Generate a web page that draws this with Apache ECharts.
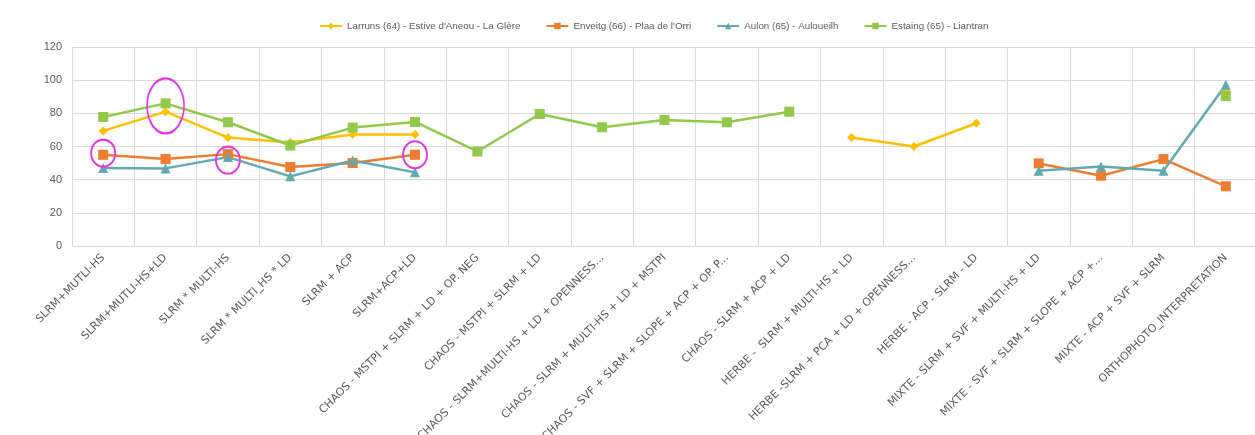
<!DOCTYPE html>
<html>
<head>
<meta charset="utf-8">
<script src="https://cdn.jsdelivr.net/npm/echarts@6/dist/echarts.min.js"></script>
<style>
  html, body { margin: 0; padding: 0; background: #fff; }
  #chart { width: 1255px; height: 435px; }
</style>
</head>
<body>
<div id="chart"></div>
<script>
// categories (axis labels as shown, truncated ones kept with "...")
var categories = [
    'SLRM+MUTLI-HS',
    'SLRM+MUTLI-HS+LD',
    'SLRM * MULTI-HS',
    'SLRM * MULTI_HS * LD',
    'SLRM + ACP',
    'SLRM+ACP+LD',
    'CHAOS - MSTPI + SLRM + LD + OP. NEG',
    'CHAOS - MSTPI + SLRM + LD',
    'CHAOS - SLRM+MULTI-HS + LD + OPENNESS...',
    'CHAOS - SLRM + MULTI-HS + LD + MSTPI',
    'CHAOS - SVF + SLRM + SLOPE + ACP + OP. P...',
    'CHAOS - SLRM + ACP + LD',
    'HERBE -  SLRM + MULTI-HS + LD',
    'HERBE -SLRM + PCA + LD + OPENNESS...',
    'HERBE - ACP - SLRM - LD',
    'MIXTE - SLRM + SVF + MULTI-HS + LD',
    'MIXTE - SVF + SLRM + SLOPE + ACP +...',
    'MIXTE - ACP + SVF + SLRM',
    'ORTHOPHOTO_INTERPRETATION'
];

// series names
var nameLarruns = "Larruns (64) - Estive d'Aneou - La Glère";
var nameEnveitg = "Enveitg (66) - Plaa de l'Orri";
var nameAulon = 'Aulon (65) - Auloueilh';
var nameEstaing = 'Estaing (65) - Liantran';

// values (null = no value)
var larruns = [69.4, 81, 65.4, 62.4, 67.2, 67.2, null, null, null, null, null, null, 65.4, 60, 74, null, null, null, 93.6];
var enveitg = [55, 52.4, 55.4, 47.6, 50, 55, null, null, null, null, null, null, null, null, null, 49.8, 42.4, 52.4, 36];
var aulon   = [47, 46.8, 53.6, 42, 51.6, 44.4, null, null, null, null, null, null, null, null, null, 45.4, 48, 45.4, 97.2];
var estaing = [77.8, 86, 74.6, 60.6, 71.4, 74.8, 57, 79.6, 71.6, 76, 74.6, 81, null, null, null, null, null, null, 90.4];

// y axis ticks
var yTicks = [0, 20, 40, 60, 80, 100, 120];

// hand-drawn magenta ellipses: category index + value of their centre
var noteSmallCats = [0, 2, 5];
var noteSmallValues = [56, 51.8, 55];
var noteBigCat = 1;
var noteBigValue = 84.5;

var chart = echarts.init(document.getElementById('chart'));

var textGray = '#595959';
var gridGray = '#d9d9d9';
var noteColor = '#e536e5';

function lineSeries(name, data, color, symbol, size) {
    return {
        name: name,
        type: 'line',
        data: data,
        connectNulls: false,
        symbol: symbol,
        symbolSize: size,
        showAllSymbol: true,
        lineStyle: { color: color, width: 2.5 },
        itemStyle: { color: color },
        z: 3
    };
}

var smallNotes = noteSmallCats.map(function (c, i) {
    return { coord: [c, noteSmallValues[i]], symbolSize: [24, 27] };
});

var seriesList = [
    lineSeries(nameLarruns, larruns, '#ffc000', 'diamond', 9),
    lineSeries(nameEnveitg, enveitg, '#ed7d31', 'rect', 10),
    lineSeries(nameAulon, aulon, '#62aab0', 'triangle', 10),
    lineSeries(nameEstaing, estaing, '#92c94a', 'rect', 10)
];

var noteStyle = {
    symbol: 'circle',
    silent: true,
    label: { show: false },
    itemStyle: { color: 'rgba(0,0,0,0)', borderColor: noteColor, borderWidth: 2 }
};

seriesList[1].markPoint = Object.assign({ data: smallNotes }, noteStyle);
seriesList[3].markPoint = Object.assign({
    data: [{ coord: [noteBigCat, noteBigValue], symbolSize: [37, 55] }]
}, noteStyle);

var option = {
    animation: false,
    backgroundColor: '#fff',
    legend: {
        top: 16,
        left: 314,
        itemWidth: 22,
        itemHeight: 8,
        itemGap: 25,
        textStyle: {
            color: textGray,
            fontSize: 9.8,
            fontFamily: "'Liberation Sans', sans-serif"
        },
        data: [nameLarruns, nameEnveitg, nameAulon, nameEstaing]
    },
    grid: {
        left: 72,
        top: 47,
        width: 1185,
        height: 199,
        containLabel: false,
        outerBoundsMode: 'none'
    },
    xAxis: {
        type: 'category',
        data: categories,
        boundaryGap: true,
        axisLine: { show: true, lineStyle: { color: gridGray, width: 1 } },
        axisTick: { show: false },
        splitLine: { show: true, interval: 0, lineStyle: { color: gridGray, width: 1 } },
        axisLabel: {
            interval: 0,
            rotate: 45,
            margin: 10,
            color: textGray,
            fontSize: 11,
            fontFamily: "'DejaVu Sans', sans-serif"
        }
    },
    yAxis: {
        type: 'value',
        min: yTicks[0],
        max: yTicks[yTicks.length - 1],
        interval: 20,
        axisLine: { show: false },
        axisTick: { show: false },
        splitLine: { lineStyle: { color: gridGray, width: 1 } },
        axisLabel: {
            margin: 10,
            color: textGray,
            fontSize: 11,
            fontFamily: "'Liberation Sans', sans-serif"
        }
    },
    series: seriesList
};

chart.setOption(option);
</script>
</body>
</html>
